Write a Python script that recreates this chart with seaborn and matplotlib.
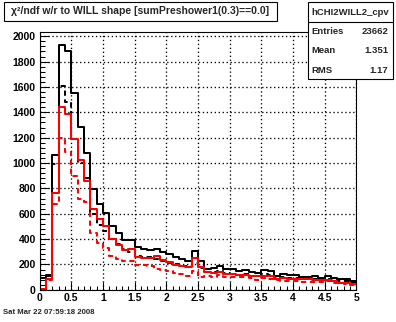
import numpy as np
import pandas as pd
import matplotlib
matplotlib.use("Agg")
import matplotlib.pyplot as plt
from matplotlib.patches import Rectangle
from matplotlib.ticker import MultipleLocator
import seaborn as sns

# chi2/ndf histogram, 50 bins of width 0.1 from 0 to 5
bin_edges = np.linspace(0.0, 5.0, 51)

chi2_all = [95, 117, 1061, 1933, 1880, 1555, 1287, 1083, 799, 673,
            602, 502, 450, 392, 392, 334, 319, 313, 319, 295,
            285, 262, 240, 225, 308, 228, 166, 172, 185, 161,
            161, 150, 155, 138, 132, 158, 150, 106, 124, 114,
            114, 103, 100, 106, 93, 109, 96, 85, 86, 71]

chi2_all_sub = [90, 110, 995, 1605, 1481, 1190, 1000, 880, 600, 510,
                460, 400, 360, 320, 300, 270, 255, 262, 240, 225,
                215, 200, 190, 190, 215, 175, 140, 140, 150, 130,
                128, 120, 125, 112, 110, 125, 118, 90, 100, 92,
                92, 85, 82, 85, 75, 88, 77, 68, 68, 57]

chi2_red = [8, 83, 760, 1445, 1390, 1187, 1022, 857, 640, 560,
            500, 397, 353, 313, 318, 261, 248, 248, 266, 235,
            221, 195, 187, 182, 250, 182, 143, 132, 143, 122,
            122, 117, 117, 109, 109, 112, 109, 85, 93, 85,
            85, 85, 85, 75, 80, 75, 70, 57, 57, 45]

chi2_red_sub = [5, 75, 678, 1198, 1085, 895, 720, 690, 445, 366,
                327, 266, 240, 227, 227, 195, 195, 185, 164, 156,
                145, 130, 122, 109, 148, 100, 110, 100, 115, 98,
                98, 100, 98, 95, 80, 90, 85, 75, 70, 72,
                68, 65, 62, 65, 60, 68, 55, 50, 45, 40]

title_text = "\u03c7\u00b2/ndf w/r to WILL shape [sumPreshower1(0.3)==0.0]"
hist_name = "hCHI2WILL2_cpv"
stats_rows = [("Entries", "23662"), ("Mean", "1.351"), ("RMS", "1.17")]
date_text = "Sat Mar 22 07:59:18 2008"
x_ticks = [0, 0.5, 1, 1.5, 2, 2.5, 3, 3.5, 4, 4.5, 5]
x_tick_labels = ["0", "0.5", "1", "1.5", "2", "2.5", "3", "3.5", "4", "4.5", "5"]
y_ticks = list(range(0, 2001, 200))

sns.set_theme(style="white")
plt.rcParams["font.family"] = ["Liberation Sans", "DejaVu Sans"]
plt.rcParams["font.weight"] = "bold"

W, H = 396, 322
fig = plt.figure(figsize=(W / 100, H / 100), dpi=100)
fig.patch.set_facecolor("white")
ax = fig.add_axes([0.1, 0.1, 0.8, 0.8])
ax.set_facecolor("white")

centers = (bin_edges[:-1] + bin_edges[1:]) / 2
dash = (0, (2.6, 1.8))
series = [
    (chi2_all, "black", "-"),
    (chi2_all_sub, "black", dash),
    (chi2_red, "red", "-"),
    (chi2_red_sub, "red", dash),
]
for counts, color, ls in series:
    df = pd.DataFrame({"chi2": centers, "n": counts})
    sns.histplot(data=df, x="chi2", weights="n", bins=list(bin_edges),
                 element="step", fill=False, color=color, linestyle=ls,
                 linewidth=1.45, ax=ax)

ax.set_xlim(0, 5)
ax.set_ylim(0, 2032)
ax.set_xlabel("")
ax.set_ylabel("")

ax.set_xticks(x_ticks)
ax.set_xticklabels(x_tick_labels)
ax.set_yticks(y_ticks)
ax.xaxis.set_minor_locator(MultipleLocator(0.1))
ax.yaxis.set_minor_locator(MultipleLocator(40))
ax.tick_params(axis="both", which="both", direction="in", colors="black",
               labelsize=7.5, width=0.75, bottom=True, left=True, top=False, right=False)
ax.tick_params(axis="x", which="major", length=5.5, pad=2.2)
ax.tick_params(axis="x", which="minor", length=2.8)
ax.tick_params(axis="y", which="major", length=6.8, pad=2.8)
ax.tick_params(axis="y", which="minor", length=3.4)
for lab in ax.get_xticklabels() + ax.get_yticklabels():
    lab.set_fontweight("bold")

ax.grid(True, which="major", color="black", linestyle=(0, (1, 2)), linewidth=0.95)
ax.set_axisbelow(True)
for sp in ax.spines.values():
    sp.set_visible(True)
    sp.set_color("black")
    sp.set_linewidth(0.8)


def fx(px):
    return px / W


def fy(py):
    return 1 - py / H


# title pave
fig.add_artist(Rectangle((fx(4), fy(21)), fx(277) - fx(4), fy(2) - fy(21),
                         transform=fig.transFigure, facecolor="white",
                         edgecolor="black", linewidth=0.8, zorder=5))
fig.text(fx(140.5), fy(11.5), title_text, ha="center", va="center",
         fontsize=7.5, fontweight="bold", zorder=6)

# statistics pave
fig.add_artist(Rectangle((fx(308), fy(79)), fx(393) - fx(308), fy(2) - fy(79),
                         transform=fig.transFigure, facecolor="white",
                         edgecolor="black", linewidth=0.8, zorder=5))
fig.add_artist(plt.Line2D([fx(308), fx(393)], [fy(22), fy(22)],
                          transform=fig.transFigure, color="black",
                          linewidth=0.8, zorder=6))
fig.text(fx(350.5), fy(12.3), hist_name, ha="center", va="center",
         fontsize=6.8, fontweight="bold", zorder=6)
for i, (name, val) in enumerate(stats_rows):
    yy = 31.7 + i * 19.2
    fig.text(fx(311), fy(yy), name, ha="left", va="center",
             fontsize=6.8, fontweight="bold", zorder=6)
    fig.text(fx(388), fy(yy), val, ha="right", va="center",
             fontsize=6.8, fontweight="bold", zorder=6)

fig.text(fx(3), fy(313), date_text, ha="left", va="center",
         fontsize=5.6, fontweight="bold")

fig.savefig("out.png", dpi=100, facecolor="white")
